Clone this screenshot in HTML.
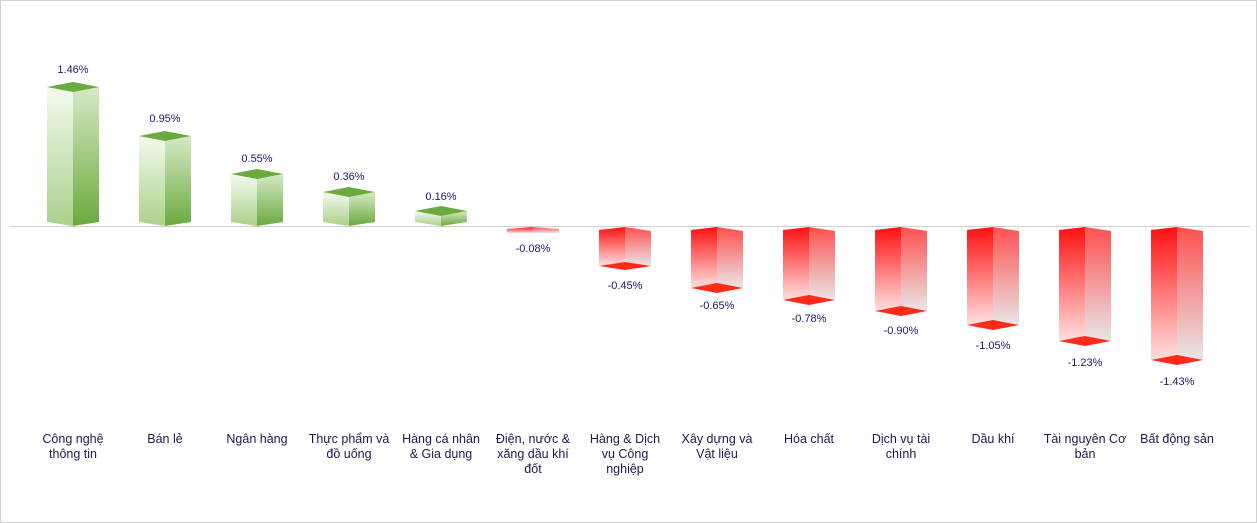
<!DOCTYPE html>
<html><head><meta charset="utf-8"><style>
body{margin:0;background:#fff}
svg{display:block}
text{font-family:"Liberation Sans",sans-serif;font-size:11px;fill:#1a1a6e;text-anchor:middle}
.c{font-size:12.5px;fill:#1a1a50}
</style></head><body>
<svg width="1257" height="523" viewBox="0 0 1257 523">
<defs>
<linearGradient id="gl" x1="0" y1="0" x2="0" y2="1"><stop offset="0" stop-color="#f4faef"/><stop offset="1" stop-color="#a9d18a"/></linearGradient>
<linearGradient id="gr" x1="0" y1="0" x2="0" y2="1"><stop offset="0" stop-color="#d5eac4"/><stop offset="1" stop-color="#6aaa3e"/></linearGradient>
<linearGradient id="rl" x1="0" y1="0" x2="0" y2="1"><stop offset="0" stop-color="#ff1010"/><stop offset="1" stop-color="#ffe0e0"/></linearGradient>
<linearGradient id="rr" x1="0" y1="0" x2="0" y2="1"><stop offset="0" stop-color="#ff5050"/><stop offset="1" stop-color="#e8e6e6"/></linearGradient>
</defs>
<rect x="0.5" y="0.5" width="1256" height="522" fill="#fff" stroke="#d0d0d0"/>
<line x1="10" y1="226.5" x2="1250" y2="226.5" stroke="#d0d0d0"/>
<!-- positives -->
<g>
<polygon points="47,87 73,92 73,226 47,222" fill="url(#gl)"/><polygon points="73,92 99,87 99,222 73,226" fill="url(#gr)"/><polygon points="47,87 73,82 99,87 73,92" fill="#6aaa3e"/>
<polygon points="139,136 165,141 165,226 139,222" fill="url(#gl)"/><polygon points="165,141 191,136 191,222 165,226" fill="url(#gr)"/><polygon points="139,136 165,131 191,136 165,141" fill="#6aaa3e"/>
<polygon points="231,174 257,179 257,226 231,222" fill="url(#gl)"/><polygon points="257,179 283,174 283,222 257,226" fill="url(#gr)"/><polygon points="231,174 257,169 283,174 257,179" fill="#6aaa3e"/>
<polygon points="323,192 349,197 349,226 323,222" fill="url(#gl)"/><polygon points="349,197 375,192 375,222 349,226" fill="url(#gr)"/><polygon points="323,192 349,187 375,192 349,197" fill="#6aaa3e"/>
<polygon points="415,211 441,216 441,226 415,222" fill="url(#gl)"/><polygon points="441,216 467,211 467,222 441,226" fill="url(#gr)"/><polygon points="415,211 441,206 467,211 441,216" fill="#6aaa3e"/>
</g>
<text x="73" y="73">1.46%</text><text x="165" y="122">0.95%</text><text x="257" y="162">0.55%</text><text x="349" y="180">0.36%</text><text x="441" y="200">0.16%</text>
<!-- negatives -->
<g>
<polygon points="507,229 533,227 533,233 507,233" fill="url(#rl)"/><polygon points="533,227 559,229 559,233 533,233" fill="url(#rr)"/>
<polygon points="599,230 625,227 625,266 599,266" fill="url(#rl)"/><polygon points="625,227 651,231 651,266 625,266" fill="url(#rr)"/><polygon points="599,266 625,262 651,266 625,270" fill="#ff2a1a"/>
<polygon points="691,230 717,227 717,288 691,288" fill="url(#rl)"/><polygon points="717,227 743,231 743,288 717,288" fill="url(#rr)"/><polygon points="691,288 717,283 743,288 717,293" fill="#ff2a1a"/>
<polygon points="783,230 809,227 809,300 783,300" fill="url(#rl)"/><polygon points="809,227 835,231 835,300 809,300" fill="url(#rr)"/><polygon points="783,300 809,295 835,300 809,305" fill="#ff2a1a"/>
<polygon points="875,230 901,227 901,311 875,311" fill="url(#rl)"/><polygon points="901,227 927,231 927,311 901,311" fill="url(#rr)"/><polygon points="875,311 901,306 927,311 901,316" fill="#ff2a1a"/>
<polygon points="967,230 993,227 993,325 967,325" fill="url(#rl)"/><polygon points="993,227 1019,231 1019,325 993,325" fill="url(#rr)"/><polygon points="967,325 993,320 1019,325 993,330" fill="#ff2a1a"/>
<polygon points="1059,230 1085,227 1085,341 1059,341" fill="url(#rl)"/><polygon points="1085,227 1111,231 1111,341 1085,341" fill="url(#rr)"/><polygon points="1059,341 1085,336 1111,341 1085,346" fill="#ff2a1a"/>
<polygon points="1151,230 1177,227 1177,360 1151,360" fill="url(#rl)"/><polygon points="1177,227 1203,231 1203,360 1177,360" fill="url(#rr)"/><polygon points="1151,360 1177,355 1203,360 1177,365" fill="#ff2a1a"/>
</g>
<text x="533" y="252">-0.08%</text><text x="625" y="289">-0.45%</text><text x="717" y="309">-0.65%</text><text x="809" y="322">-0.78%</text><text x="901" y="334">-0.90%</text><text x="993" y="349">-1.05%</text><text x="1085" y="366">-1.23%</text><text x="1177" y="385">-1.43%</text>
<!-- categories -->
<g class="cat">
<text class="c" x="73" y="443">Công nghệ</text><text class="c" x="73" y="458">thông tin</text>
<text class="c" x="165" y="443">Bán lẻ</text>
<text class="c" x="257" y="443">Ngân hàng</text>
<text class="c" x="349" y="443">Thực phẩm và</text><text class="c" x="349" y="458">đồ uống</text>
<text class="c" x="441" y="443">Hàng cá nhân</text><text class="c" x="441" y="458">&amp; Gia dụng</text>
<text class="c" x="533" y="443">Điện, nước &amp;</text><text class="c" x="533" y="458">xăng dầu khí</text><text class="c" x="533" y="473">đốt</text>
<text class="c" x="625" y="443">Hàng &amp; Dịch</text><text class="c" x="625" y="458">vụ Công</text><text class="c" x="625" y="473">nghiệp</text>
<text class="c" x="717" y="443">Xây dựng và</text><text class="c" x="717" y="458">Vật liệu</text>
<text class="c" x="809" y="443">Hóa chất</text>
<text class="c" x="901" y="443">Dịch vụ tài</text><text class="c" x="901" y="458">chính</text>
<text class="c" x="993" y="443">Dầu khí</text>
<text class="c" x="1085" y="443">Tài nguyên Cơ</text><text class="c" x="1085" y="458">bản</text>
<text class="c" x="1177" y="443">Bất động sản</text>
</g>
</svg>
</body></html>
